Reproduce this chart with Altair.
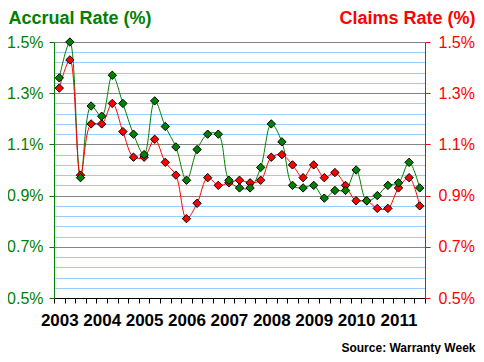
import altair as alt
import pandas as pd

years = ["2003", "2004", "2005", "2006", "2007", "2008", "2009", "2010", "2011"]
quarters = [y + "Q" + str(q) for y in years for q in (1, 2, 3, 4)][:35]

accrual = [1.36, 1.50, 0.97, 1.25, 1.21, 1.37, 1.26, 1.14, 1.06, 1.27, 1.17, 1.09,
           0.96, 1.08, 1.14, 1.14, 0.96, 0.93, 0.93, 1.01, 1.18, 1.11, 0.94, 0.93, 0.94,
           0.89, 0.92, 0.92, 1.00, 0.88, 0.90, 0.94, 0.95, 1.03, 0.93]
claims = [1.32, 1.43, 0.98, 1.18, 1.18, 1.26, 1.15, 1.05, 1.05, 1.12, 1.03, 0.98,
          0.81, 0.87, 0.97, 0.94, 0.95, 0.96, 0.95, 0.96, 1.05, 1.06, 1.02, 0.97, 1.02,
          0.97, 0.99, 0.94, 0.88, 0.88, 0.85, 0.85, 0.93, 0.97, 0.86]

major_ticks = [0.5, 0.7, 0.9, 1.1, 1.3, 1.5]
grid_values = [0.5, 0.54, 0.58, 0.62, 0.66, 0.7, 0.74, 0.78, 0.82, 0.86, 0.9, 0.94, 0.98,
               1.02, 1.06, 1.1, 1.14, 1.18, 1.22, 1.26, 1.3, 1.34, 1.38, 1.42, 1.46, 1.5]

df = pd.DataFrame({"q": quarters, "accrual": accrual, "claims": claims})

GREEN = "#008000"
RED = "#ff0000"
FONT = "Liberation Sans"

major_test = "round(datum.value*100) % 20 == 10"

xaxis = alt.Axis(
    title="Source: Warranty Week", titleFont=FONT, titleFontSize=12, titleFontWeight="bold",
    titleColor="black", titleAngle=0, titleAlign="right", titleBaseline="alphabetic",
    titleX=421, titleY=53,
    labelExpr="indexof('' + datum.value, 'Q1') > 0 ? substring('' + datum.value, 0, 4) : ''",
    labelFont=FONT, labelFontSize=17, labelFontWeight="bold", labelColor="black",
    labelAngle=0, labelPadding=9, labelOverlap=False, labelBound=False,
    tickBand="extent", tickColor="black", tickSize=5, tickWidth=1,
    domainColor="black", domainWidth=1, grid=False,
)
x = alt.X("q:N", sort=quarters,
          scale=alt.Scale(type="band", paddingInner=0, paddingOuter=0), axis=xaxis)

yscale = alt.Scale(domain=[0.5, 1.5], nice=False, zero=False)

left_axis = alt.Axis(
    orient="left", values=grid_values,
    title="Accrual Rate (%)", titleFont=FONT, titleFontSize=18, titleFontWeight="bold",
    titleColor=GREEN, titleAngle=0, titleAlign="left", titleBaseline="alphabetic",
    titleX=-46, titleY=-19,
    labelExpr=major_test + " ? format(datum.value, '.1f') + '%' : ''",
    labelFont=FONT, labelFontSize=16, labelColor=GREEN, labelPadding=6,
    labelOverlap=False, labelBound=False, labelBaseline="middle",
    tickSize=5, tickColor=GREEN,
    tickOpacity={"condition": {"test": major_test, "value": 1}, "value": 0},
    domainColor=GREEN, domainWidth=1,
    grid=True, gridWidth=1,
    gridColor={"condition": {"test": major_test, "value": "#858585"}, "value": "#99ccff"},
)
right_axis = alt.Axis(
    orient="right", values=major_ticks,
    title="Claims Rate (%)", titleFont=FONT, titleFontSize=18, titleFontWeight="bold",
    titleColor=RED, titleAngle=0, titleAlign="right", titleBaseline="alphabetic",
    titleX=50, titleY=-19,
    labelExpr="format(datum.value, '.1f') + '%'",
    labelFont=FONT, labelFontSize=16, labelColor=RED, labelPadding=8,
    labelOverlap=False, labelBound=False, labelBaseline="middle",
    tickSize=5, tickColor=RED, domainColor=RED, domainWidth=1, grid=False,
)

base = alt.Chart(df)

red_line = base.mark_line(interpolate="catmull-rom", color=RED, strokeWidth=1).encode(
    x=x, y=alt.Y("claims:Q", scale=yscale, axis=right_axis))
red_pts = base.mark_point(shape="diamond", filled=True, fill=RED, stroke="black",
                          strokeWidth=1, size=70, opacity=1).encode(
    x=x, y=alt.Y("claims:Q", scale=yscale, axis=None))
green_line = base.mark_line(interpolate="catmull-rom", color=GREEN, strokeWidth=1).encode(
    x=x, y=alt.Y("accrual:Q", scale=yscale, axis=left_axis))
green_pts = base.mark_point(shape="diamond", filled=True, fill=GREEN, stroke="black",
                            strokeWidth=1, size=70, opacity=1).encode(
    x=x, y=alt.Y("accrual:Q", scale=yscale, axis=None))

chart = alt.layer(green_line, red_line, red_pts, green_pts).resolve_scale(
    y="independent").properties(
    width=371, height=256,
    autosize=alt.AutoSizeParams(type="none"),
    padding={"left": 46, "top": 34, "right": 51, "bottom": 56},
).configure_view(stroke=None).configure(background="white")

chart.save("out.html", embed_options={"renderer": "svg", "actions": False})
